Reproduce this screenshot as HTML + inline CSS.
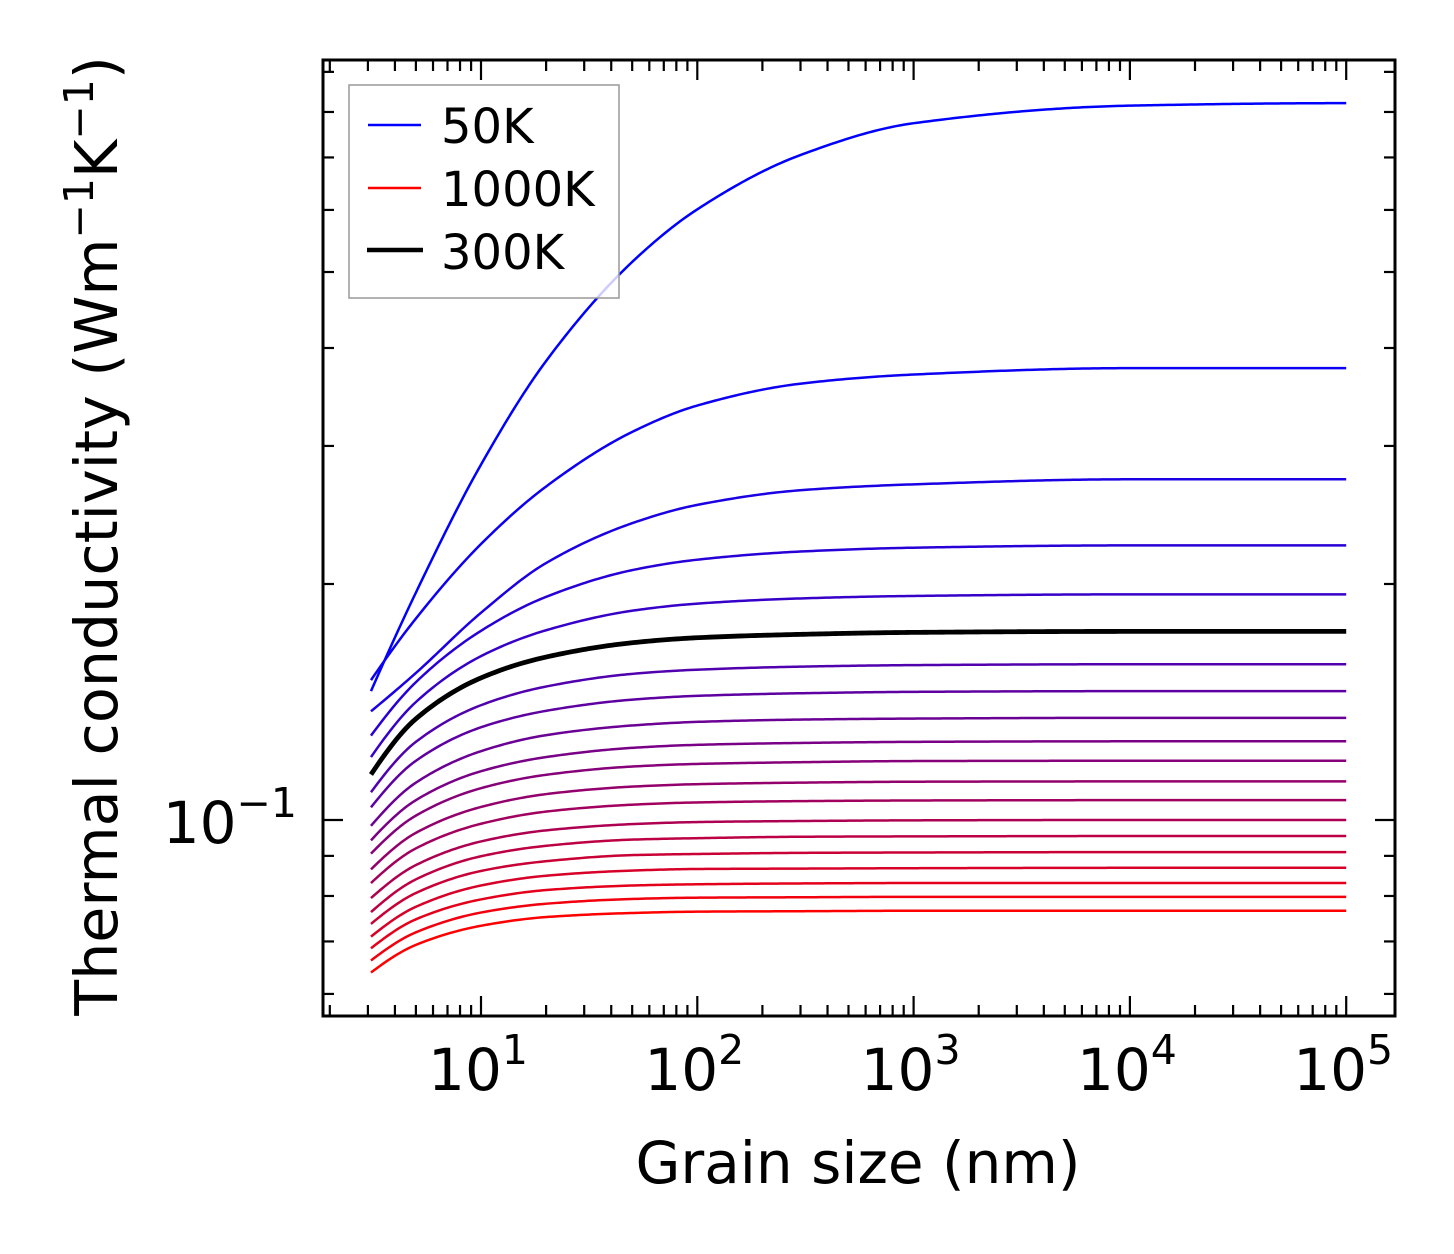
<!DOCTYPE html>
<html><head><meta charset="utf-8"><style>
html,body{margin:0;padding:0;background:#fff;}
svg{display:block;font-family:"DejaVu Sans","Liberation Sans",sans-serif;}
</style></head><body>
<svg id="chart" width="1454" height="1254" viewBox="0 0 1454 1254" xmlns="http://www.w3.org/2000/svg">
<rect width="1454" height="1254" fill="#fff"/>
<g id="curves"></g>
<g id="axes"></g>
<text x="858" y="1183" font-size="58" text-anchor="middle">Grain size (nm)</text>
<text transform="translate(117,536) rotate(-90)" font-size="58.7" text-anchor="middle">Thermal conductivity (Wm<tspan font-size="41" dy="-24">−1</tspan><tspan dy="24">K</tspan><tspan font-size="41" dy="-24">−1</tspan><tspan dy="24">)</tspan></text>
<g>
<rect x="349" y="85" width="270" height="213" fill="rgba(255,255,255,0.8)" stroke="#999" stroke-width="1.5"/>
<g><line x1="368" y1="125" x2="421" y2="125" stroke="#0000ff" stroke-width="2.4"/><text x="441" y="143" font-size="48">50K</text></g>
<g><line x1="368" y1="188" x2="421" y2="188" stroke="#ff0000" stroke-width="2.4"/><text x="441" y="206" font-size="48">1000K</text></g>
<g><line x1="367" y1="250" x2="423" y2="250" stroke="#000" stroke-width="4.5"/><text x="441" y="269" font-size="48">300K</text></g>
</g>
</svg>
<script>
const grainSizes = [3.1, 5, 10, 20, 50, 100, 300, 1000, 10000, 100000];
const temperatures = [50,100,150,200,250,300,350,400,450,500,550,600,650,700,750,800,850,900,950,1000];
const k50 = [0.146,0.195,0.284,0.385,0.515,0.601,0.705,0.774,0.815,0.821];
const k100 = [0.1508,0.1807,0.2249,0.2663,0.3126,0.3378,0.3602,0.370,0.377,0.377];
const k150 = [0.1376,0.154,0.1838,0.2127,0.2391,0.2523,0.2634,0.268,0.272,0.272];
const k200 = [0.1281,0.1499,0.1743,0.1926,0.2083,0.2148,0.2200,0.2225,0.224,0.224];
const k250 = [0.1203,0.1414,0.1618,0.1746,0.1849,0.1888,0.1917,0.1931,0.194,0.194];
const k300 = [0.1143,0.1346,0.1518,0.1614,0.1683,0.1708,0.1725,0.1735,0.174,0.174];
const k350 = [0.1085,0.1258,0.1401,0.1480,0.1536,0.1555,0.1569,0.1576,0.158,0.158];
const k400 = [0.1038,0.1190,0.1313,0.1378,0.1424,0.1440,0.1451,0.1457,0.146,0.146];
const k450 = [0.0983,0.1116,0.1224,0.1283,0.1320,0.1334,0.1343,0.1347,0.135,0.135];
const k500 = [0.0942,0.1060,0.1154,0.1203,0.1236,0.1247,0.1254,0.1258,0.126,0.126];
const k550 = [0.0906,0.1013,0.1098,0.1142,0.1170,0.1179,0.1185,0.1189,0.119,0.119];
const k600 = [0.0865,0.0963,0.1039,0.1079,0.1103,0.1111,0.1116,0.1119,0.112,0.112];
const k650 = [0.0831,0.0920,0.0989,0.1025,0.1046,0.1053,0.1057,0.1059,0.106,0.106];
const k700 = [0.0795,0.0876,0.0939,0.0970,0.0988,0.0994,0.0997,0.0999,0.100,0.100];
const k750 = [0.0763,0.0840,0.0899,0.0927,0.0944,0.0948,0.0952,0.0953,0.0954,0.0954];
const k800 = [0.0737,0.0807,0.0861,0.0886,0.0902,0.0905,0.0908,0.0909,0.0910,0.0910];
const k850 = [0.0710,0.0775,0.0825,0.0849,0.0862,0.0866,0.0867,0.0868,0.0869,0.0869];
const k900 = [0.0686,0.0747,0.0792,0.0814,0.0825,0.0828,0.0830,0.0831,0.0831,0.0831];
const k950 = [0.0662,0.0719,0.0762,0.0782,0.0793,0.0796,0.0797,0.0798,0.0798,0.0798];
const k1000 = [0.0639,0.0693,0.0733,0.0752,0.0761,0.0764,0.0765,0.0766,0.0766,0.0766];
const xMajorTicks = [1,2,3,4,5];
const xTickLabels = ["1","2","3","4","5"];
const yMajorTicks = [-1];
const yTickLabels = ["−1"];

const series = [k50,k100,k150,k200,k250,k300,k350,k400,k450,k500,k550,k600,k650,k700,k750,k800,k850,k900,k950,k1000];
const NS = "http://www.w3.org/2000/svg";
const L = 323, R = 1395, T = 60, B = 1016;
const xDec = 216.3, x10 = 481;
const yDec = 784, yTenth = 820;
function xs(v){ return x10 + (Math.log10(v) - 1) * xDec; }
function ys(v){ return yTenth - (Math.log10(v) + 1) * yDec; }
function mk(tag, attrs, parent){ const e = document.createElementNS(NS, tag); for (const k in attrs) e.setAttribute(k, attrs[k]); parent.appendChild(e); return e; }

function monotone(xv, yv){
  const n = xv.length, d = [], h = [], m = new Array(n);
  for (let i = 0; i < n - 1; i++) { h.push(xv[i+1]-xv[i]); d.push((yv[i+1]-yv[i])/h[i]); }
  function endSlope(h0, h1, d0, d1){
    let s = ((2*h0 + h1)*d0 - h0*d1)/(h0 + h1);
    if (Math.sign(s) !== Math.sign(d0)) s = 0;
    else if (Math.sign(d0) !== Math.sign(d1) && Math.abs(s) > Math.abs(3*d0)) s = 3*d0;
    return s;
  }
  m[0] = endSlope(h[0], h[1], d[0], d[1]);
  m[n-1] = endSlope(h[n-2], h[n-3], d[n-2], d[n-3]);
  for (let i = 1; i < n - 1; i++) {
    if (d[i-1]*d[i] <= 0) m[i] = 0;
    else { const w1 = 2*h[i] + h[i-1], w2 = h[i] + 2*h[i-1]; m[i] = (w1+w2)/(w1/d[i-1] + w2/d[i]); }
  }
  return function(x){
    let i = 0; while (i < n - 2 && x > xv[i+1]) i++;
    const hh = h[i], t = (x - xv[i])/hh, t2 = t*t, t3 = t2*t;
    return (2*t3-3*t2+1)*yv[i] + (t3-2*t2+t)*hh*m[i] + (-2*t3+3*t2)*yv[i+1] + (t3-t2)*hh*m[i+1];
  };
}

const curves = document.getElementById('curves');
const lx = grainSizes.map(g => Math.log10(g));
series.forEach((vals, i) => {
  const f = monotone(lx, vals.map(v => Math.log10(v)));
  const a = lx[0], b = lx[lx.length-1], N = 300;
  let d = '';
  for (let s = 0; s <= N; s++) {
    const x = a + (b - a) * s / N;
    const px = xs(Math.pow(10, x)), py = ys(Math.pow(10, f(x)));
    d += (s ? 'L' : 'M') + px.toFixed(2) + ',' + py.toFixed(2);
  }
  const t = i / (series.length - 1);
  const col = temperatures[i] === 300 ? '#000' : 'rgb(' + Math.round(255 * t) + ',0,' + Math.round(255 * (1 - t)) + ')';
  const p = mk('path', {d: d, fill: 'none', stroke: col, 'stroke-width': temperatures[i] === 300 ? 4.8 : 2.5, 'stroke-linejoin': 'round'}, curves);
  
  
});

const axes = document.getElementById('axes');
for (let e = 0; e <= 5; e++) {
  for (let m = 1; m <= 9; m++) {
    const v = m * Math.pow(10, e);
    const x = xs(v);
    if (x < L + 2 || x > R - 2) continue;
    const len = m === 1 ? 20 : 11;
    mk('line', {x1: x, y1: B, x2: x, y2: B - len, stroke: '#000', 'stroke-width': 2.2}, axes);
    mk('line', {x1: x, y1: T, x2: x, y2: T + len, stroke: '#000', 'stroke-width': 2.2}, axes);
  }
}
xMajorTicks.forEach((e, i) => {
  const t = mk('text', {x: xs(Math.pow(10, e)) - 3, y: 1090, 'font-size': 58, 'text-anchor': 'middle'}, axes);
  
  
  t.innerHTML = '10<tspan font-size="41" dy="-26">' + xTickLabels[i] + '</tspan>';
});
for (let e = -2; e <= 0; e++) {
  for (let m = 1; m <= 9; m++) {
    const v = m * Math.pow(10, e);
    const y = ys(v);
    if (y < T + 2 || y > B - 2) continue;
    const len = m === 1 ? 20 : 11;
    mk('line', {x1: L, y1: y, x2: L + len, y2: y, stroke: '#000', 'stroke-width': 2.2}, axes);
    mk('line', {x1: R, y1: y, x2: R - len, y2: y, stroke: '#000', 'stroke-width': 2.2}, axes);
  }
}
yMajorTicks.forEach((e, i) => {
  const t = mk('text', {x: 297, y: ys(Math.pow(10, e)) + 23, 'font-size': 58, 'text-anchor': 'end'}, axes);
  
  
  t.innerHTML = '10<tspan font-size="41" dy="-26">' + yTickLabels[i] + '</tspan>';
});
const frame = mk('rect', {x: L, y: T, width: R - L, height: B - T, fill: 'none', stroke: '#000', 'stroke-width': 3}, axes);


</script>
</body></html>
